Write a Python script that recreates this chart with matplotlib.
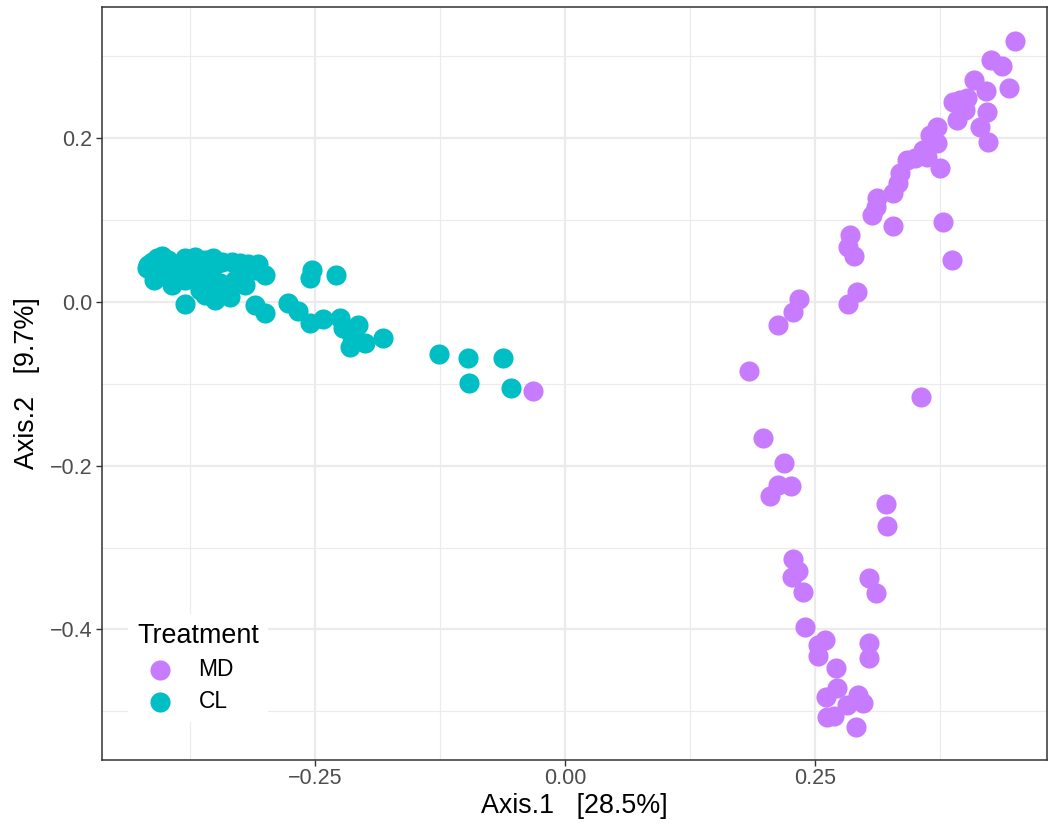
import numpy as np
import matplotlib.pyplot as plt
from matplotlib.ticker import FixedLocator

############################################
# ordination scores (PCoA axes 1 and 2)

cl_axis1 = [-0.417, -0.413, -0.408, -0.403, -0.397, -0.411, -0.404, -0.390, -0.380, -0.370,
            -0.360, -0.352, -0.343, -0.333, -0.325, -0.317, -0.307, -0.300, -0.310, -0.393,
            -0.380, -0.365, -0.355, -0.345, -0.330, -0.320, -0.380, -0.360, -0.350, -0.335,
            -0.337, -0.365, -0.350, -0.375, -0.320, -0.355, -0.418,
            -0.253, -0.255, -0.229, -0.310, -0.300, -0.277, -0.267, -0.255, -0.242, -0.225,
            -0.222, -0.207, -0.213, -0.215, -0.200, -0.182, -0.126, -0.097, -0.062, -0.096,
            -0.054]
cl_axis2 = [0.045, 0.049, 0.054, 0.056, 0.051, 0.027, 0.037, 0.042, 0.054, 0.055,
            0.051, 0.054, 0.049, 0.049, 0.048, 0.046, 0.046, 0.033, 0.039, 0.021,
            0.027, 0.033, 0.037, 0.023, 0.027, 0.033, -0.002, 0.009, 0.002, 0.006,
            0.017, 0.015, 0.045, 0.045, 0.021, 0.023, 0.042,
            0.039, 0.029, 0.033, -0.004, -0.013, -0.001, -0.011, -0.026, -0.021, -0.020,
            -0.032, -0.028, -0.043, -0.055, -0.050, -0.044, -0.064, -0.068, -0.068, -0.099,
            -0.105]

md_axis1 = [-0.032, 0.450, 0.426, 0.437, 0.409, 0.421, 0.444, 0.388, 0.402, 0.395,
            0.422, 0.392, 0.400, 0.415, 0.423, 0.372, 0.365, 0.372, 0.375, 0.358,
            0.362, 0.342, 0.350, 0.335, 0.333, 0.328, 0.312, 0.311, 0.307, 0.328,
            0.378, 0.387, 0.285, 0.283, 0.289, 0.292, 0.283, 0.234, 0.228, 0.213,
            0.184, 0.356, 0.198, 0.219, 0.213, 0.226, 0.205, 0.321, 0.322, 0.228,
            0.233, 0.227, 0.238, 0.304, 0.311, 0.240, 0.260, 0.253, 0.253, 0.304,
            0.304, 0.271, 0.272, 0.261, 0.293, 0.282, 0.298, 0.262, 0.269, 0.291]
md_axis2 = [-0.109, 0.319, 0.296, 0.288, 0.271, 0.258, 0.261, 0.244, 0.249, 0.247,
            0.232, 0.222, 0.235, 0.214, 0.195, 0.214, 0.204, 0.194, 0.164, 0.186,
            0.177, 0.173, 0.176, 0.158, 0.145, 0.133, 0.127, 0.116, 0.106, 0.093,
            0.098, 0.051, 0.082, 0.067, 0.056, 0.012, -0.002, 0.004, -0.012, -0.028,
            -0.084, -0.116, -0.166, -0.197, -0.224, -0.225, -0.237, -0.247, -0.274, -0.314,
            -0.329, -0.336, -0.354, -0.337, -0.356, -0.397, -0.413, -0.419, -0.432, -0.417,
            -0.435, -0.447, -0.472, -0.483, -0.480, -0.492, -0.490, -0.507, -0.506, -0.519]

x_ticks = [-0.25, 0.00, 0.25]
x_tick_labels = ["\u22120.25", "0.00", "0.25"]
y_ticks = [-0.4, -0.2, 0.0, 0.2]
y_tick_labels = ["\u22120.4", "\u22120.2", "0.0", "0.2"]

#############################################
## Plotting Data
plt.rcParams['font.family'] = ['Liberation Sans', 'DejaVu Sans']

fig, ax = plt.subplots(figsize=(10.48, 8.31), dpi=100)
fig.subplots_adjust(left=0.0973, right=0.999, top=0.9916, bottom=0.0854)

ax.scatter(md_axis1, md_axis2, s=210, color='#C77CFF', linewidths=0, label='MD', zorder=3)
ax.scatter(cl_axis1, cl_axis2, s=210, color='#00BFC4', linewidths=0, label='CL', zorder=3)

ax.set_xlim(-0.463, 0.482)
ax.set_ylim(-0.5596, 0.3604)

# theme_bw style grid
ax.xaxis.set_major_locator(FixedLocator(x_ticks))
ax.yaxis.set_major_locator(FixedLocator(y_ticks))
ax.xaxis.set_minor_locator(FixedLocator([-0.375, -0.125, 0.125, 0.375]))
ax.yaxis.set_minor_locator(FixedLocator([-0.5, -0.3, -0.1, 0.1, 0.3]))
ax.set_xticklabels(x_tick_labels)
ax.set_yticklabels(y_tick_labels)
ax.grid(True, which='major', color='#EBEBEB', linewidth=1.6, zorder=0)
ax.grid(True, which='minor', color='#EBEBEB', linewidth=0.8, zorder=0)
ax.set_axisbelow(True)
ax.tick_params(which='minor', length=0)
ax.tick_params(which='major', length=4, width=1.0, color='#333333',
               labelcolor='#4D4D4D', labelsize=15.5, pad=3)
ax.tick_params(axis='x', which='major', pad=1.5)
for spine in ax.spines.values():
    spine.set_color('#333333')
    spine.set_linewidth(1.1)

ax.set_xlabel("Axis.1   [28.5%]", fontsize=19.4, labelpad=3)
ax.set_ylabel("Axis.2   [9.7%]", fontsize=19.4, labelpad=7)

leg = ax.legend(title='Treatment', loc='lower left', bbox_to_anchor=(0.0275, 0.05),
                frameon=True, fancybox=False, edgecolor='none', facecolor='white',
                framealpha=1.0, fontsize=16.4, title_fontsize=19.4, markerscale=1.0,
                handletextpad=0.7, labelspacing=0.4, borderpad=0.4, borderaxespad=0)
leg._legend_box.align = 'left'

fig.savefig("out.png", dpi=100)
